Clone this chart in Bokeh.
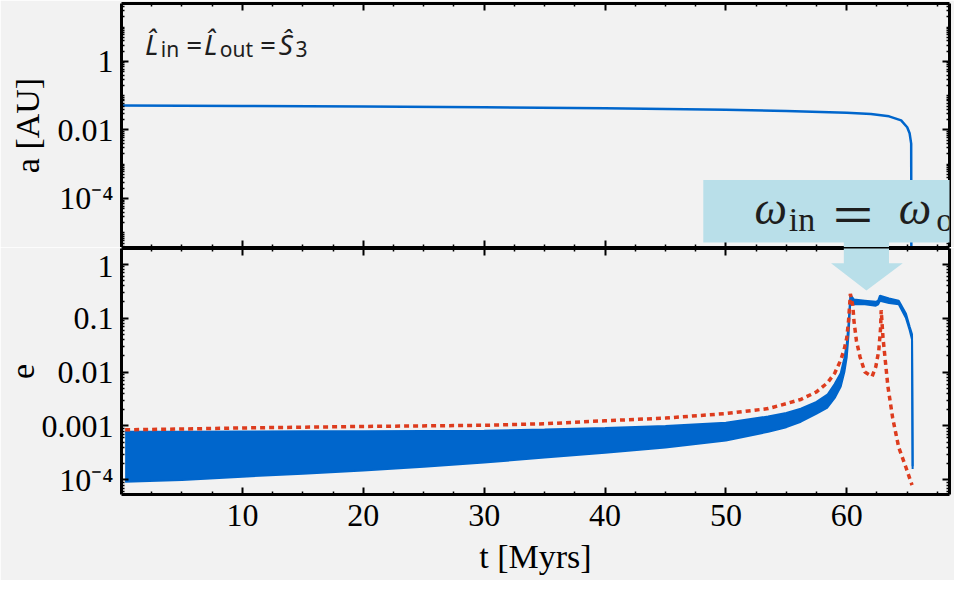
from bokeh.plotting import figure
from bokeh.layouts import column
from bokeh.models import (Range1d, FixedTicker, LinearAxis, LogAxis, CustomJSTickFormatter,
                          BoxAnnotation, PolyAnnotation, Label)
from bokeh.embed import file_html
from bokeh.resources import INLINE

# ---------------- data ----------------
# top panel: semi-major axis a [AU] vs t [Myrs]
t_a = [0, 10, 20, 30, 40, 50, 55, 60, 62, 63.5, 64.5, 65.0, 65.2, 65.33, 65.35]
a_au = [0.052, 0.050, 0.048, 0.046, 0.043, 0.039, 0.036, 0.032, 0.029, 0.025,
        0.019, 0.012, 0.008, 0.004, 1e-7]

# bottom panel: eccentricity oscillation envelope (blue band)
t_band = [0.3, 5, 10, 15, 20, 25, 30, 35, 40, 45,
          50, 53.5, 55, 56.2, 57.5, 58.4, 59.0, 59.5, 59.8, 60.0,
          60.15, 60.3, 60.6, 61.5, 62.4, 62.6, 62.75, 63.5, 64.3, 64.9,
          65.2, 65.4, 65.45]
e_hi = [7.8e-4, 7.8e-4, 7.9e-4, 8.0e-4, 8.0e-4, 8.1e-4, 8.2e-4, 8.6e-4, 9.2e-4, 1.0e-3,
        1.15e-3, 1.5e-3, 1.75e-3, 2.1e-3, 2.8e-3, 3.8e-3, 6e-3, 9.5e-3, 0.018, 0.033,
        0.08, 0.27, 0.22, 0.21, 0.2, 0.21, 0.26, 0.23, 0.21, 0.12,
        0.07, 0.05, 1.8e-4]
e_lo = [9.3e-5, 1.0e-4, 1.15e-4, 1.3e-4, 1.5e-4, 1.75e-4, 2.1e-4, 2.6e-4, 3.2e-4, 4.0e-4,
        5.4e-4, 7.8e-4, 9.5e-4, 1.2e-3, 1.7e-3, 2.2e-3, 3.3e-3, 5.4e-3, 0.010, 0.019,
        0.05, 0.21, 0.18, 0.18, 0.17, 0.18, 0.21, 0.19, 0.18, 0.1,
        0.06, 0.04, 1.6e-4]

# bottom panel: red dotted curve
t_red = [0.3, 5, 10, 20, 30, 35, 40, 45, 50, 53.5,
         55, 56.2, 57.5, 58.4, 59.0, 59.5, 59.8, 60.0, 60.15, 60.3,
         60.5, 60.6, 60.8, 61.1, 61.5, 62.1, 62.4, 62.65, 62.8, 62.85,
         63.0, 63.4, 63.8, 64.3, 64.9, 65.4]
e_red = [8.5e-4, 8.8e-4, 9.2e-4, 9.8e-4, 1.03e-3, 1.1e-3, 1.25e-3, 1.4e-3, 1.7e-3, 2.1e-3,
         2.6e-3, 3.1e-3, 4.3e-3, 6.3e-3, 9.5e-3, 0.0166, 0.027, 0.043, 0.09, 0.28,
         0.17, 0.087, 0.038, 0.019, 0.010, 0.0083, 0.0125, 0.025, 0.066, 0.14,
         0.043, 0.0055, 0.0014, 4e-4, 1.7e-4, 8e-5]

x_ticks = [10, 20, 30, 40, 50, 60]
a_ticks = [1e-4, 1e-2, 1.0]
a_tick_labels = ["10⁻⁴", "0.01", "1"]
e_ticks = [1e-4, 1e-3, 1e-2, 0.1, 1.0]
e_tick_labels = ["10⁻⁴", "0.001", "0.01", "0.1", "1"]

# ---------------- styling ----------------
BLUE = "#0066cc"
RED = "#dd3c1e"
BG = "#f2f2f2"
BOXC = "#b9dfe9"
SERIF = "Liberation Serif"
SANS = "Noto Sans"

X_RANGE = (0, 68.5)
A_LOG = (-5.43, 1.69)
E_LOG = (-4.27, 0.29)

x_minor = [i * 2.5 for i in range(1, 28) if i % 4 != 0]


def log_minor(majors):
    out = []
    for n in range(-6, 2):
        for k in range(1, 10):
            v = k * 10.0 ** n
            if not any(abs(v - m) < 1e-12 for m in majors):
                out.append(v)
    return out


def fmt(vals, labs):
    return CustomJSTickFormatter(args=dict(vals=vals, labs=labs), code="""
        for (let i = 0; i < vals.length; i++) {
            if (Math.abs(Math.log10(tick) - Math.log10(vals[i])) < 1e-6) return labs[i];
        }
        return '';
    """)


def style(ax, show=True):
    ax.axis_line_width = 3
    ax.axis_line_color = "black"
    ax.major_tick_in = 7
    ax.major_tick_out = 0
    ax.minor_tick_in = 3
    ax.minor_tick_out = 0
    ax.major_tick_line_width = 2
    ax.minor_tick_line_width = 1.5
    ax.major_tick_line_color = "black"
    ax.minor_tick_line_color = "black"
    ax.major_label_text_font = SERIF
    ax.major_label_text_font_size = "32px"
    ax.major_label_text_color = "black"
    ax.axis_label_text_font = SERIF
    ax.axis_label_text_font_size = "34px"
    ax.axis_label_text_font_style = "normal"
    ax.axis_label_text_color = "black"
    if not show:
        ax.formatter = CustomJSTickFormatter(code="return '';")
        ax.major_label_text_font_size = "0px"
        ax.major_label_standoff = 0


# reference-pixel -> data helpers for the annotation overlay
def tx(px):
    return (px - 122.0) / 12.3


def ya(py):
    return 10 ** ((62.0 - py) / 35.0)


def ye(py):
    return 10 ** ((271.0 - py) / 55.5)


# ---------------- top panel ----------------
p1 = figure(width=954, height=247, x_range=Range1d(*X_RANGE),
            y_range=Range1d(10 ** A_LOG[0], 10 ** A_LOG[1]), y_axis_type="log",
            output_backend="svg", toolbar_location=None,
            min_border_left=121, min_border_right=5, min_border_top=3, min_border_bottom=0,
            background_fill_color=BG, border_fill_color=BG, outline_line_color=None)
p1.grid.visible = False
p1.xaxis.ticker = FixedTicker(ticks=x_ticks, minor_ticks=x_minor)
style(p1.xaxis[0], show=False)
p1.yaxis.ticker = FixedTicker(ticks=a_ticks, minor_ticks=log_minor(a_ticks))
p1.yaxis.formatter = fmt(a_ticks, a_tick_labels)
style(p1.yaxis[0])
p1.yaxis.axis_label = "a [AU]"
p1.yaxis.major_label_standoff = 8
p1.yaxis.axis_label_standoff = 9
ax_t = LinearAxis(ticker=FixedTicker(ticks=x_ticks, minor_ticks=x_minor))
style(ax_t, show=False)
p1.add_layout(ax_t, "above")
ax_r = LogAxis(ticker=FixedTicker(ticks=a_ticks, minor_ticks=log_minor(a_ticks)))
style(ax_r, show=False)
p1.add_layout(ax_r, "right")

p1.line(t_a, a_au, line_color=BLUE, line_width=2.5)

# ---------------- bottom panel ----------------
p2 = figure(width=954, height=333, x_range=p1.x_range,
            y_range=Range1d(10 ** E_LOG[0], 10 ** E_LOG[1]), y_axis_type="log",
            output_backend="svg", toolbar_location=None,
            min_border_left=121, min_border_right=5, min_border_top=1, min_border_bottom=86,
            background_fill_color=BG, border_fill_color=BG, outline_line_color=None)
p2.grid.visible = False
p2.xaxis.ticker = FixedTicker(ticks=x_ticks, minor_ticks=x_minor)
style(p2.xaxis[0])
p2.xaxis.axis_label = "t [Myrs]"
p2.xaxis.major_label_standoff = 10
p2.xaxis.axis_label_standoff = 9
p2.yaxis.ticker = FixedTicker(ticks=e_ticks, minor_ticks=log_minor(e_ticks))
p2.yaxis.formatter = fmt(e_ticks, e_tick_labels)
style(p2.yaxis[0])
p2.yaxis.axis_label = "e"
p2.yaxis.major_label_standoff = 8
p2.yaxis.axis_label_standoff = 5
bx_t = LinearAxis(ticker=FixedTicker(ticks=x_ticks, minor_ticks=x_minor))
style(bx_t, show=False)
p2.add_layout(bx_t, "above")
bx_r = LogAxis(ticker=FixedTicker(ticks=e_ticks, minor_ticks=log_minor(e_ticks)))
style(bx_r, show=False)
p2.add_layout(bx_r, "right")

p2.varea(x=t_band, y1=e_lo, y2=e_hi, fill_color=BLUE)
p2.line(t_band, e_hi, line_color=BLUE, line_width=2)
p2.line(t_band, e_lo, line_color=BLUE, line_width=2)
p2.line(t_red, e_red, line_color=RED, line_width=3.5, line_dash="5 4")

# ---------------- annotations ----------------
TXT = "#1e1e1e"


def lab(p, x, y, text, size, font=SERIF, style_="normal"):
    p.add_layout(Label(x=x, y=y, text=text, text_font=font, text_font_size=size,
                       text_font_style=style_, text_color=TXT, text_baseline="middle",
                       text_align="left", level="overlay"))


# \hat L_in = \hat L_out = \hat S_3  (y given at the text's middle)
lab(p1, tx(146), ya(44), "L\u0302", "28px", SANS, "italic")
lab(p1, tx(162), ya(49), "in", "21px", SANS)
lab(p1, tx(188), ya(44), "=", "28px", SANS)
lab(p1, tx(206), ya(44), "L\u0302", "28px", SANS, "italic")
lab(p1, tx(222), ya(49), "out", "21px", SANS)
lab(p1, tx(263), ya(44), "=", "28px", SANS)
lab(p1, tx(282), ya(44), "Ŝ", "28px", SANS, "italic")
lab(p1, tx(299), ya(49), "3", "21px", SANS)

# callout box with arrow (drawn over the frame, as in the reference)
p1.add_layout(BoxAnnotation(left=tx(714), right=tx(990), top=ya(183), bottom=ya(247),
                            fill_color=BOXC, fill_alpha=1, line_alpha=0, level="overlay"))
p1.add_layout(BoxAnnotation(left=tx(857), right=tx(903), top=ya(246), bottom=ya(265),
                            fill_color=BOXC, fill_alpha=1, line_alpha=0, level="overlay"))
p2.add_layout(PolyAnnotation(xs=[tx(857), tx(903), tx(903), tx(917), tx(880), tx(844), tx(857)],
                             ys=[ye(240), ye(240), ye(270), ye(270), ye(298), ye(270), ye(270)],
                             fill_color=BOXC, fill_alpha=1, line_alpha=0, level="overlay"))

lab(p1, tx(766), ya(212), "ω", "46px", SERIF, "italic")
lab(p1, tx(801), ya(223), "in", "34px", SERIF)
lab(p1, tx(843), ya(216), "＝", "46px", "Noto Sans CJK JP")
lab(p1, tx(913), ya(212), "ω", "46px", SERIF, "italic")
lab(p1, tx(951), ya(223), "o", "34px", SERIF)

layout = column(p1, p2)
open("out.html", "w").write(file_html(layout, INLINE))
